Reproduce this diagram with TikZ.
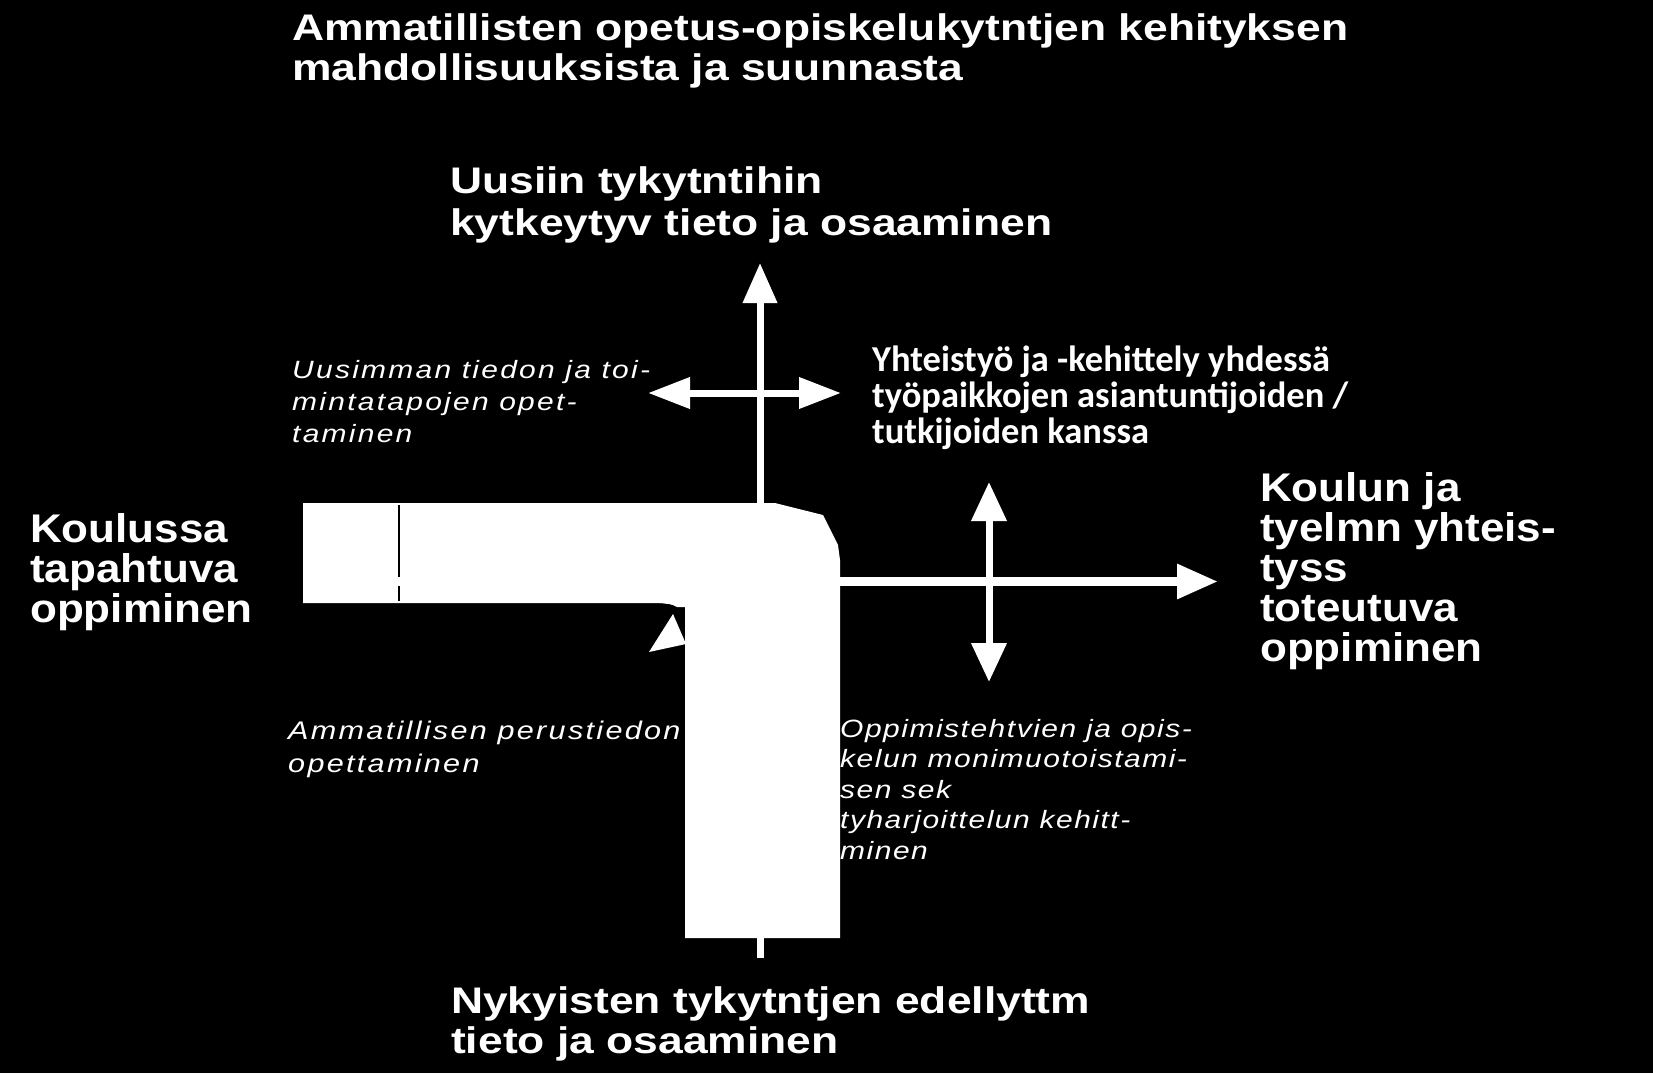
\documentclass[tikz,border=0pt]{standalone}
\usepackage{fontspec}
\usetikzlibrary{arrows.meta}
\newfontfamily\hdfont{Liberation Sans}[FakeStretch=1.2]
\newfontfamily\sdfont{Liberation Sans}[FakeStretch=1.1]
\newfontfamily\itfontA{Liberation Sans}[FakeStretch=1.2,LetterSpace=9]
\newfontfamily\itfontB{Liberation Sans}[FakeStretch=1.2,LetterSpace=6]
\newfontfamily\gsfont{Carlito}
\tikzset{
  txt/.style={text=white, align=left, inner sep=0pt, anchor=base west},
  bigA/.style={txt, font=\hdfont\bfseries\fontsize{37}{39.5}\selectfont},
  bigAw/.style={txt, font=\hdfont\bfseries\fontsize{37}{42}\selectfont},
  bigB/.style={txt, font=\sdfont\bfseries\fontsize{40}{40}\selectfont},
  itA/.style={txt, font=\itfontA\itshape\fontsize{25}{32}\selectfont},
  itB/.style={txt, font=\itfontA\itshape\fontsize{25.5}{33}\selectfont},
  itC/.style={txt, font=\itfontB\itshape\fontsize{25}{30.5}\selectfont},
  gs/.style={txt, font=\gsfont\bfseries\fontsize{36.5}{36}\selectfont},
  arr/.style={draw=white, line width=7pt},
}
\begin{document}
\begin{tikzpicture}[x=1pt,y=-1pt]
\fill[black] (0,0) rectangle (1653,1073);
\useasboundingbox (0,0) rectangle (1653,1073);

% arrows
\coordinate (vbot) at (760,958);
\coordinate (vtop) at (760,263);
\coordinate (hl) at (648,393);
\coordinate (hr) at (841,393);
\coordinate (lstart) at (760,581.5);
\coordinate (lend) at (1218,581.5);
\coordinate (dtop) at (989,482);
\coordinate (dbot) at (989,682);

\draw[arr, -{Triangle[width=33pt,length=40pt]}] (vbot) -- (vtop);
\draw[arr, {Triangle[width=30pt,length=42pt]}-{Triangle[width=30pt,length=42pt]}] (hl) -- (hr);
\draw[arr, line width=9pt, -{Triangle[width=33pt,length=41pt]}] (lstart) -- (lend);
\draw[arr, {Triangle[width=34pt,length=39pt]}-{Triangle[width=34pt,length=39pt]}] (dtop) -- (dbot);

% bent block
\fill[white] (303,503) -- (775,503) -- (823,515) -- (838,545) -- (840,560) -- (840,938)
  -- (685,938) -- (685,607) -- (677,607) .. controls (670,604) .. (657,603) -- (303,603) -- cycle;
\draw[black, line width=1.2pt] (399,505) -- (399,577);
\draw[black, line width=1.2pt] (399,586) -- (399,601);
\fill[white] (649,652) -- (673,614) -- (686,644) -- cycle;
\draw[black, line width=3pt] (660,605) .. controls (676,606) .. (681,624);

% texts (anchor = baseline of the last line)
\node[bigA] (title) at (292,80) {Ammatillisten opetus-opiskelukytntjen kehityksen\\mahdollisuuksista ja suunnasta};
\node[bigAw] (new) at (450,235) {Uusiin tykytntihin\\kytkeytyv tieto ja osaaminen};
\node[bigA] (cur) at (451,1053) {Nykyisten tykytntjen edellyttm\\tieto ja osaaminen};
\node[bigB] (school) at (30,622) {Koulussa\\tapahtuva\\oppiminen};
\node[bigB] (work) at (1260,661) {Koulun ja\\tyelmn yhteis-\\tyss\\toteutuva\\oppiminen};
\node[itA] (newest) at (292,442) {Uusimman tiedon ja toi-\\mintatapojen opet-\\taminen};
\node[itB] (basic) at (288,772) {Ammatillisen perustiedon\\opettaminen};
\node[itC] (divers) at (840,859) {Oppimistehtvien ja opis-\\kelun monimuotoistami-\\sen sek\\tyharjoittelun kehitt-\\minen};
\node[gs] (coop) at (872,443) {Yhteistyö ja -kehittely yhdessä\\työpaikkojen asiantuntijoiden /\\tutkijoiden kanssa};
\end{tikzpicture}
\end{document}
